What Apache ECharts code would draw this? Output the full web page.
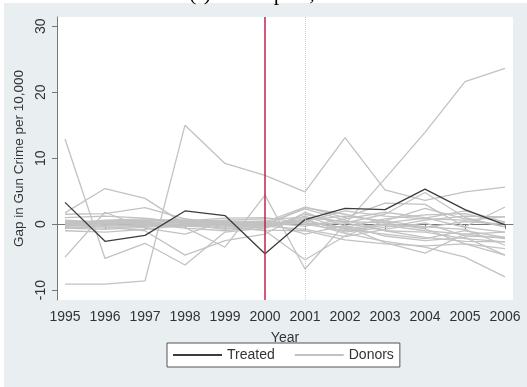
<!DOCTYPE html>
<html>
<head>
<meta charset="utf-8">
<script src="https://cdn.jsdelivr.net/npm/echarts@6/dist/echarts.min.js"></script>
<style>
html, body { margin: 0; padding: 0; background: #fff; }
#chart { width: 527px; height: 387px; }
</style>
</head>
<body>
<div id="chart"></div>
<script>
// years on the x axis
let years = [1995, 1996, 1997, 1998, 1999, 2000, 2001, 2002, 2003, 2004, 2005, 2006];
let yTicks = [-10, 0, 10, 20, 30];
let treatYear = 2000;
let postYear = 2001;

// treated unit (Davenport, IA)
let treated = [3.3, -2.6, -1.7, 2.0, 1.3, -4.5, 0.7, 2.4, 2.2, 5.3, 2.2, -0.1];

// donor pool gaps
let donors = [
	[12.9, -5.2, -2.9, -6.2, -1.2, -0.6, 1.2, -0.8, -1.5, -2.2, -1.0, -2.0],
	[-9.1, -9.1, -8.6, 15.0, 9.2, 7.4, 4.9, 13.1, 5.2, 3.6, 4.9, 5.6],
	[-0.3, 0.2, 0.5, -0.5, -3.5, 4.4, -6.8, 0.0, 6.9, 13.9, 21.6, 23.6],
	[1.7, 5.4, 3.9, 0.0, -0.8, 0.3, 2.6, 1.0, 3.2, 3.0, -0.4, 2.6],
	[-5.0, 1.8, -0.6, -1.5, 0.4, -0.2, 0.8, -1.2, -0.5, 0.6, 1.2, 1.1],
	[1.5, 1.6, 2.5, 0.8, -0.2, -1.0, -5.4, -1.8, 0.5, 2.4, 0.8, -0.4],
	[0.0, -0.4, -1.0, -4.7, -2.5, -1.5, 1.8, -0.3, -2.8, -4.4, -1.5, -1.2],
	[0.5, 0.3, 0.4, 0.8, 0.2, 0.0, 2.3, 0.6, -1.0, -2.0, -2.6, -2.7],
	[-0.5, -0.3, -0.2, 0.4, 0.6, 0.8, 1.0, 0.4, 0.2, -0.7, -3.0, -4.7],
	[0.2, 0.1, 0.0, 0.2, -0.3, -0.4, 0.3, -1.4, -2.6, -3.5, -5.0, -8.0],
	[-0.2, -0.1, 0.2, 0.6, 0.3, 0.5, 0.0, 0.2, 1.5, 4.8, 1.0, -0.4],
	[1.0, 1.2, 0.9, 0.2, -0.5, 0.1, 0.4, 2.0, 1.2, 0.8, 0.6, 1.1],
	[-0.4, -0.6, -0.3, -0.1, 0.2, -0.3, -0.8, -1.9, -0.8, 0.2, -1.8, -2.0],
	[0.3, 0.5, 0.6, 0.3, 0.0, -0.2, 0.6, 1.2, 0.5, -0.4, -0.8, -3.2],
	[-0.1, 0.0, 0.3, -0.3, -0.6, -0.9, -1.0, -2.4, -3.0, -3.3, -3.0, -3.7],
	[0.1, 0.2, -0.1, 0.5, 0.9, 1.0, 0.2, -0.5, 0.8, 1.4, 1.6, 0.2],
	[0.4, -0.2, -0.4, 0.1, 0.4, 0.2, -0.3, 0.8, 1.8, 1.0, -0.5, -1.2],
	[-0.3, 0.4, 0.1, -0.2, -0.1, -0.6, 1.5, 0.2, -1.0, -1.2, -2.2, -2.7],
	[0.6, 0.3, 0.0, -0.6, -1.0, -0.3, 0.5, -0.7, 0.0, -0.5, 0.4, 0.0],
	[-0.6, -0.8, -0.5, 0.0, 0.5, 0.3, -1.5, -0.2, -1.8, -2.5, -2.0, -4.7],
	[0.0, 0.6, 0.8, 0.4, 0.1, -0.1, 2.5, 1.5, 0.2, 0.9, 2.0, 0.3],
	[-1.0, -1.2, -0.8, -0.2, 0.0, 0.2, 0.0, -1.0, -0.2, -1.0, -1.5, -2.2]
];

function pairs(vals){
	return years.map(function(y, i){ return [y, vals[i]]; });
}

function initChart(){
	let myChart = echarts.init(document.getElementById('chart'));
	let font = '"Liberation Sans", Arial, sans-serif';

	let series = donors.map(function(d){
		return {
			name: 'Donors',
			type: 'line',
			data: pairs(d),
			symbol: 'none',
			silent: true,
			z: 2,
			color: '#c2c2c2',
			lineStyle: { color: '#c2c2c2', width: 1.3 }
		};
	});
	series.push({
		name: 'Treated',
		type: 'line',
		data: pairs(treated),
		symbol: 'none',
		z: 3,
		color: '#3c3c3c',
		lineStyle: { color: '#3c3c3c', width: 1.3 },
		markLine: {
			silent: true,
			symbol: 'none',
			label: { show: false },
			z: 5,
			data: [
				{ xAxis: treatYear, lineStyle: { color: '#c4204e', width: 1.5, type: 'solid' } },
				{ xAxis: postYear, lineStyle: { color: '#c8c8c8', width: 1, type: 'dotted' } }
			]
		}
	});

	let option = {
	    backgroundColor: '#ffffff',
	    animation: false,
	    graphic: [{
	        type: 'rect',
	        z: -10,
	        shape: { x: 4, y: 3, width: 523, height: 384 },
	        style: { fill: '#e9eff1' }
	    }, {
	        type: 'text',
	        z: 10,
	        left: 'center',
	        top: -17,
	        style: {
	            text: '(f) Davenport,IA',
	            font: '22px "Liberation Serif", serif',
	            fill: '#000'
	        }
	    }],
	    grid: {
	        left: 57,
	        right: 14,
	        top: 17,
	        bottom: 87,
	        show: true,
	        backgroundColor: '#ffffff',
	        borderWidth: 0
	    },
	    legend: {
	        top: 343,
	        left: 167,
	        backgroundColor: '#ffffff',
	        borderColor: '#555',
	        borderWidth: 1,
	        borderRadius: 0,
	        padding: [5, 6, 5, 6],
	        itemWidth: 49,
	        itemHeight: 2,
	        itemGap: 20,
	        icon: 'rect',
	        data: ['Treated', 'Donors'],
	        textStyle: { fontFamily: font, fontSize: 14, color: '#333' }
	    },
	    xAxis: {
	        type: 'value',
	        min: 1994.8,
	        max: 2006.2,
	        name: 'Year',
	        nameLocation: 'middle',
	        nameGap: 31,
	        nameTextStyle: { fontFamily: font, fontSize: 14, color: '#333' },
	        splitLine: { show: false },
	        axisLine: { lineStyle: { color: '#777', width: 1 } },
	        axisTick: { customValues: years, length: 5, lineStyle: { color: '#777' } },
	        axisLabel: {
	            customValues: years,
	            formatter: function(v){ return String(v); },
	            margin: 10,
	            fontFamily: font,
	            fontSize: 14,
	            color: '#333'
	        }
	    },
	    yAxis: {
	        type: 'value',
	        min: -11.5,
	        max: 31.4,
	        name: 'Gap in Gun Crime per 10,000',
	        nameLocation: 'middle',
	        nameGap: 21,
	        nameTextStyle: { fontFamily: font, fontSize: 13.5, color: '#333' },
	        splitLine: { show: false },
	        axisLine: { show: true, lineStyle: { color: '#777', width: 1 } },
	        axisTick: { show: true, customValues: yTicks, length: 5, lineStyle: { color: '#777' } },
	        axisLabel: {
	            customValues: yTicks,
	            rotate: 90,
	            margin: 9,
	            fontFamily: font,
	            fontSize: 14,
	            color: '#333'
	        }
	    },
	    series: series
	};
	myChart.setOption(option);
	return myChart;
}
initChart();
</script>
</body>
</html>
